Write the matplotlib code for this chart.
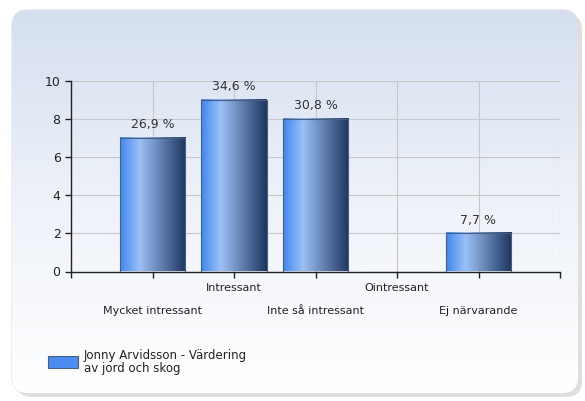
import matplotlib
matplotlib.use("Agg")
import matplotlib.pyplot as plt
import numpy as np
from matplotlib.patches import FancyBboxPatch, Rectangle
from matplotlib.colors import LinearSegmentedColormap

categories = ["Mycket intressant", "Intressant", "Inte så intressant", "Ointressant", "Ej närvarande"]
counts = [7, 9, 8, 0, 2]
percent_labels = ["26,9 %", "34,6 %", "30,8 %", "", "7,7 %"]
series_name = "Jonny Arvidsson - Värdering\nav jord och skog"

plt.rcParams['font.family'] = ['DejaVu Sans']

fig = plt.figure(figsize=(5.85, 4.01), dpi=100)
fig.patch.set_facecolor('white')

# background panel with vertical gradient
bg = fig.add_axes([0, 0, 1, 1])
bg.set_xlim(0, 585)
bg.set_ylim(401, 0)
bg.axis('off')
shadow = FancyBboxPatch((16, 14), 566, 383, boxstyle="round,pad=0,rounding_size=16",
                        facecolor='#c8c8c8', edgecolor='none', alpha=0.6)
bg.add_patch(shadow)
panel = FancyBboxPatch((12, 10), 566, 383, boxstyle="round,pad=0,rounding_size=16",
                       facecolor='none', edgecolor='#e0e0e0', linewidth=0.8)
bg.add_patch(panel)
grad = np.linspace(0, 1, 256).reshape(-1, 1)
bg_cmap = LinearSegmentedColormap.from_list('bg', ['#d5dff0', '#eef2f9', '#ffffff'])
im = bg.imshow(grad, extent=(12, 578, 393, 10), cmap=bg_cmap, aspect='auto', zorder=1)
im.set_clip_path(panel)

ax = fig.add_axes([71 / 585, 1 - 271.5 / 401, (560 - 71) / 585, (271.5 - 81) / 401])
ax.patch.set_alpha(0)
x = np.arange(len(categories))

bar_cmap = LinearSegmentedColormap.from_list(
    'bar', [(0, '#3f86ee'), (0.3, '#9bc1f7'), (0.55, '#6f8fbf'), (1, '#1c3560')])
hgrad = np.linspace(0, 1, 256).reshape(1, -1)
width = 0.8
bars = ax.bar(x, counts, width=width, color='none', edgecolor='#4a5f80', linewidth=0.8, zorder=3)
for b, lab in zip(bars, percent_labels):
    h = b.get_height()
    if h <= 0:
        continue
    x0 = b.get_x()
    ax.imshow(hgrad, extent=(x0, x0 + width, 0, h), cmap=bar_cmap, aspect='auto', zorder=2)
    ax.text(x0 + width / 2, h + 0.35, lab, ha='center', va='bottom', fontsize=9, color='#333333')
ax.set_aspect('auto')
ax.set_xlim(-1, len(categories))
ax.set_ylim(0, 10)

ax.set_yticks(range(0, 11, 2))
ax.set_xticks(np.arange(-1, len(categories) + 1))
ax.set_xticklabels([])
for i, c in enumerate(categories):
    yy = -0.87 if i % 2 == 1 else -2.08
    ax.text(i, yy, c, ha='center', va='center', fontsize=8, color='#222222', clip_on=False)

ax.grid(True, color='#c8c8c8', linewidth=0.8, zorder=0)
ax.set_axisbelow(True)
for s in ['top', 'right']:
    ax.spines[s].set_visible(False)
for s in ['left', 'bottom']:
    ax.spines[s].set_color('#222222')
    ax.spines[s].set_linewidth(1.0)
ax.tick_params(axis='both', direction='out', length=4, width=1, color='#222222',
               labelsize=9, labelcolor='#222222')

# legend
bg.add_patch(Rectangle((48, 356), 30, 12, facecolor='#4a8cf0', edgecolor='#4a5f80',
                       linewidth=0.8, zorder=3))
bg.text(84, 362, series_name, ha='left', va='center', fontsize=8.5, color='#222222',
        linespacing=1.0, zorder=3)

fig.savefig('out.png', dpi=100)
